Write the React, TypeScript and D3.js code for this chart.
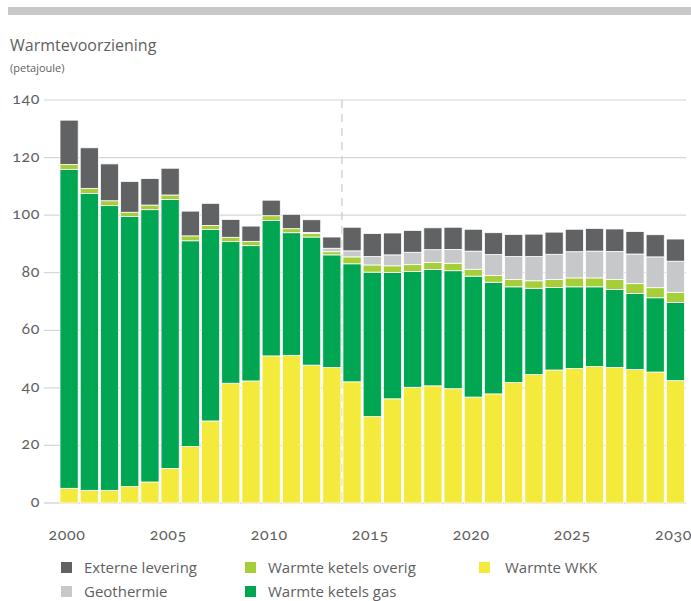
import { useEffect, useRef } from "react";
import * as d3 from "d3";

const years = d3.range(2000, 2031).map(String);

const wkk = [5.1, 4.4, 4.4, 5.7, 7.3, 12.0, 19.6, 28.5, 41.6, 42.4, 51.1, 51.3, 47.9, 47.1, 42.1, 30.0, 36.2, 40.2, 40.7, 39.7, 36.8, 37.9, 41.9, 44.6, 46.2, 46.7, 47.4, 47.1, 46.4, 45.5, 42.5];
const ketelsGas = [110.8, 103.1, 98.9, 93.8, 94.6, 93.4, 71.5, 66.5, 49.2, 47.0, 47.1, 42.6, 44.5, 39.1, 41.0, 50.2, 43.9, 40.2, 40.4, 41.0, 42.0, 38.8, 33.2, 30.0, 28.7, 28.4, 27.7, 27.1, 26.4, 25.8, 27.2];
const ketelsOverig = [1.7, 1.8, 1.7, 1.5, 1.6, 1.6, 1.7, 1.4, 1.5, 1.5, 1.6, 1.4, 1.2, 1.1, 2.4, 2.5, 2.3, 2.4, 2.5, 2.6, 2.4, 2.3, 2.5, 2.6, 2.7, 3.1, 3.1, 3.4, 3.4, 3.5, 3.5];
const geothermie = [0, 0, 0, 0, 0, 0, 0, 0, 0, 0, 0, 0, 0.4, 1.2, 2.1, 2.9, 3.8, 4.3, 4.4, 4.8, 6.3, 7.3, 8.0, 8.4, 8.8, 9.1, 9.3, 9.8, 10.3, 10.7, 10.8];
const externe = [15.4, 14.1, 12.8, 10.7, 9.2, 9.3, 8.6, 7.7, 6.2, 5.3, 5.4, 5.0, 4.4, 3.9, 8.2, 8.0, 7.6, 7.6, 7.6, 7.7, 7.6, 7.6, 7.7, 7.8, 7.7, 7.8, 7.9, 7.8, 7.8, 7.7, 7.7];

const yTicks = [0, 20, 40, 60, 80, 100, 120, 140];
const xTickLabels = ["2000", "2005", "2010", "2015", "2020", "2025", "2030"];

const seriesKeys = ["wkk", "gas", "overig", "geo", "externe"];
const colors: Record<string, string> = {
  wkk: "#f4ea3b",
  gas: "#00a651",
  overig: "#a6ce39",
  geo: "#c7c8ca",
  externe: "#616264",
};

const legendItems = [
  { key: "externe", label: "Externe levering", col: 0, row: 0 },
  { key: "geo", label: "Geothermie", col: 0, row: 1 },
  { key: "overig", label: "Warmte ketels overig", col: 1, row: 0 },
  { key: "gas", label: "Warmte ketels gas", col: 1, row: 1 },
  { key: "wkk", label: "Warmte WKK", col: 2, row: 0 },
];

const FONT = "'Open Sans', 'Noto Sans', sans-serif";
const NUM_FONT = "Lato, 'Open Sans', sans-serif";
const TEXT = "#5f5f5f";

export default function App() {
  const svgRef = useRef<SVGSVGElement | null>(null);

  useEffect(() => {
    if (!svgRef.current) return;
    const svg = d3.select(svgRef.current);
    svg.selectAll("*").remove();

    const width = 691;

    // top band
    svg.append("rect")
      .attr("x", 8)
      .attr("y", 7)
      .attr("width", width - 8)
      .attr("height", 8)
      .attr("fill", "#c7c8ca");

    svg.append("text")
      .attr("x", 10)
      .attr("y", 51)
      .attr("font-size", 16)
      .attr("fill", TEXT)
      .text("Warmtevoorziening");

    svg.append("text")
      .attr("x", 10)
      .attr("y", 72)
      .attr("font-size", 11)
      .attr("fill", TEXT)
      .text("(petajoule)");

    const data = years.map((year, i) => ({
      year,
      wkk: wkk[i],
      gas: ketelsGas[i],
      overig: ketelsOverig[i],
      geo: geothermie[i],
      externe: externe[i],
    }));

    const x = d3.scaleBand()
      .domain(years)
      .range([60, 684.5])
      .paddingInner(0.1)
      .paddingOuter(0);

    const y = d3.scaleLinear()
      .domain([0, 140])
      .range([503, 100]);

    // grid
    svg.append("g")
      .selectAll("line")
      .data(yTicks)
      .join("line")
      .attr("x1", 44)
      .attr("x2", 686)
      .attr("y1", d => y(d))
      .attr("y2", d => y(d))
      .attr("stroke", d => (d === 0 ? "#c4c4c4" : "#d6d6d6"))
      .attr("stroke-width", 1.2);

    svg.append("g")
      .selectAll("text")
      .data(yTicks)
      .join("text")
      .attr("x", 40)
      .attr("y", d => y(d) + 4)
      .attr("text-anchor", "end")
      .attr("font-family", NUM_FONT)
      .attr("font-size", 16)
      .attr("letter-spacing", 0.6)
      .attr("fill", TEXT)
      .text(d => d);

    // projection divider
    const divX = (x("2013")! + x.bandwidth() + x("2014")!) / 2;
    svg.append("line")
      .attr("x1", divX)
      .attr("x2", divX)
      .attr("y1", y(140))
      .attr("y2", y(0))
      .attr("stroke", "#c9c9c9")
      .attr("stroke-width", 1.2)
      .attr("stroke-dasharray", "8,6");

    const stacked = d3.stack<any>().keys(seriesKeys)(data);

    svg.append("g")
      .selectAll("g")
      .data(stacked)
      .join("g")
      .attr("fill", d => colors[d.key])
      .selectAll("rect")
      .data(d => d.filter(p => p[1] - p[0] > 0))
      .join("rect")
      .attr("x", d => x(d.data.year)!)
      .attr("y", d => y(d[1]))
      .attr("width", x.bandwidth())
      .attr("height", d => y(d[0]) - y(d[1]))
      .attr("stroke", "#ffffff")
      .attr("stroke-width", 0.8);

    // x labels
    svg.append("g")
      .selectAll("text")
      .data(xTickLabels)
      .join("text")
      .attr("x", d => x(d)! + x.bandwidth() / 2 - 2)
      .attr("y", 540)
      .attr("text-anchor", "middle")
      .attr("font-family", NUM_FONT)
      .attr("font-size", 16)
      .attr("letter-spacing", 0.6)
      .attr("fill", TEXT)
      .text(d => d);

    // legend
    const colX = [61, 245, 479];
    const rowY = [568, 592];
    const lg = svg.append("g")
      .selectAll("g")
      .data(legendItems)
      .join("g")
      .attr("transform", d => `translate(${colX[d.col]},${rowY[d.row]})`);

    lg.append("rect")
      .attr("x", 0)
      .attr("y", -6)
      .attr("width", 11)
      .attr("height", 11)
      .attr("fill", d => colors[d.key]);

    lg.append("text")
      .attr("x", d => (d.col === 2 ? 26 : 23))
      .attr("y", 5)
      .attr("font-size", 15)
      .attr("fill", TEXT)
      .text(d => d.label);
  }, []);

  return (
    <svg
      ref={svgRef}
      width={691}
      height={601}
      style={{
        position: "absolute",
        left: 0,
        top: 0,
        fontFamily: FONT,
        fontVariantNumeric: "oldstyle-nums",
      }}
    />
  );
}
